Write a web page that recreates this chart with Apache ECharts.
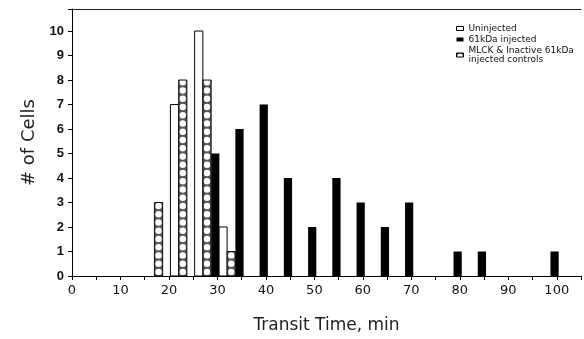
<!DOCTYPE html>
<html>
<head>
<meta charset="utf-8">
<script src="https://cdn.jsdelivr.net/npm/echarts@6/dist/echarts.min.js"></script>
<style>html,body{margin:0;padding:0;background:#fff;}#c{width:584px;height:339px;}</style>
</head>
<body>
<div id="c"></div>
<script>
// Histogram bins: start of each 5-min bin and cell counts
var uninjectedBins = [20, 25, 30];
var uninjectedCounts = [7, 10, 2];
var controlBins = [15, 20, 25, 30];
var controlCounts = [3, 8, 8, 1];
var kdaBins = [25, 30, 35, 40, 45, 50, 55, 60, 65, 75, 80, 95];
var kdaCounts = [5, 6, 7, 4, 2, 4, 3, 2, 3, 1, 1, 1];
var xTicks = [0, 10, 20, 30, 40, 50, 60, 70, 80, 90, 100];
var yTicks = [0, 1, 2, 3, 4, 5, 6, 7, 8, 9, 10];
var seriesNames = ['Uninjected', '61kDa injected', 'MLCK & Inactive 61kDa\ninjected controls'];

function pairs(bins, counts) { return bins.map(function (b, i) { return [b, counts[i]]; }); }

// crosshatch pattern for legend icon
var pc = document.createElement('canvas');
pc.width = 7; pc.height = 7;
var g = pc.getContext('2d');
g.fillStyle = '#444'; g.fillRect(0, 0, 7, 7);
g.fillStyle = '#ffffff';
g.beginPath(); g.arc(3.5, 3.5, 2.9, 0, Math.PI * 2); g.fill();
var hatch = { image: pc, repeat: 'repeat' };

var SLOT_W = 1.7;
function barRect(api, offset) {
  var s = api.value(0), v = api.value(1);
  var p0 = api.coord([s + offset, 0]);
  var p1 = api.coord([s + offset + SLOT_W, v]);
  return { x: p0[0], y: p1[1], width: p1[0] - p0[0], height: p0[1] - p1[1] };
}
function makeRender(offset) {
  return function (params, api) {
    return { type: 'rect', shape: barRect(api, offset), style: api.style() };
  };
}
function hatchRender(offset) {
  return function (params, api) {
    var r = barRect(api, offset);
    var children = [{ type: 'rect', shape: r, style: { fill: '#555', stroke: null } }];
    var step = r.width;
    var rad = r.width / 2 * 0.78;
    for (var yy = r.y + r.height - step / 2; yy > r.y + rad * 0.6; yy -= step) {
      children.push({ type: 'circle', shape: { cx: r.x + r.width / 2, cy: yy, r: rad }, style: { fill: '#fff' } });
    }
    children.push({ type: 'rect', shape: r, style: { fill: null, stroke: '#111', lineWidth: 1 } });
    return { type: 'group', children: children };
  };
}

var chart = echarts.init(document.getElementById('c'), null, { renderer: 'canvas' });
chart.setOption({
  animation: false,
  backgroundColor: '#fff',
  grid: { left: 72, right: 0, top: 9, bottom: 63 },
  legend: {
    orient: 'vertical', left: 451, top: 19, itemWidth: 7, itemHeight: 4, itemGap: 2,
    textStyle: { fontSize: 9, fontFamily: 'DejaVu Sans', color: '#111', lineHeight: 9 },
    data: [
      { name: seriesNames[0], icon: 'rect', itemStyle: { color: '#fff', borderColor: '#000', borderWidth: 1 } },
      { name: seriesNames[1], icon: 'rect', itemStyle: { color: '#000' } },
      { name: seriesNames[2], icon: 'rect', itemStyle: { color: hatch, borderColor: '#000', borderWidth: 1 } }
    ]
  },
  xAxis: [{
    type: 'value', min: 0, max: 105, interval: 5,
    name: 'Transit Time, min', nameLocation: 'middle', nameGap: 41,
    nameTextStyle: { fontSize: 17, fontFamily: 'DejaVu Sans', color: '#222' },
    axisLine: { lineStyle: { color: '#000', width: 1 } },
    axisTick: { show: true, length: 4, lineStyle: { color: '#000' } },
    axisLabel: {
      fontSize: 13, fontFamily: 'DejaVu Sans', color: '#111', margin: 8,
      formatter: function (v) { return xTicks.indexOf(v) >= 0 ? String(v) : ''; }
    },
    splitLine: { show: false }
  }, {
    type: 'value', position: 'top', min: 0, max: 105,
    axisLine: { show: true, lineStyle: { color: '#222', width: 1 } },
    axisTick: { show: false }, axisLabel: { show: false }, splitLine: { show: false }
  }],
  yAxis: {
    type: 'value', min: 0, max: 10.9, interval: 1,
    name: '# of Cells', nameLocation: 'middle', nameGap: 33,
    nameTextStyle: { fontSize: 18, fontFamily: 'DejaVu Sans', color: '#222' },
    axisLine: { show: true, lineStyle: { color: '#000', width: 1 } },
    axisTick: { show: true, length: 4, lineStyle: { color: '#000' } },
    axisLabel: {
      fontSize: 13, fontWeight: 'bold', fontFamily: 'Liberation Sans', color: '#111', margin: 8,
      formatter: function (v) { return yTicks.indexOf(v) >= 0 ? String(v) : ''; }
    },
    splitLine: { show: false }
  },
  series: [
    {
      name: seriesNames[0], type: 'custom', xAxisIndex: 0, renderItem: makeRender(0.3),
      itemStyle: { color: '#fff', borderColor: '#000', borderWidth: 1 },
      data: pairs(uninjectedBins, uninjectedCounts)
    },
    {
      name: seriesNames[1], type: 'custom', xAxisIndex: 0, renderItem: makeRender(3.7),
      itemStyle: { color: '#000' },
      data: pairs(kdaBins, kdaCounts)
    },
    {
      name: seriesNames[2], type: 'custom', xAxisIndex: 0, renderItem: hatchRender(2.0),
      itemStyle: { color: hatch, borderColor: '#000', borderWidth: 1 },
      data: pairs(controlBins, controlCounts)
    }
  ]
});
</script>
</body>
</html>
